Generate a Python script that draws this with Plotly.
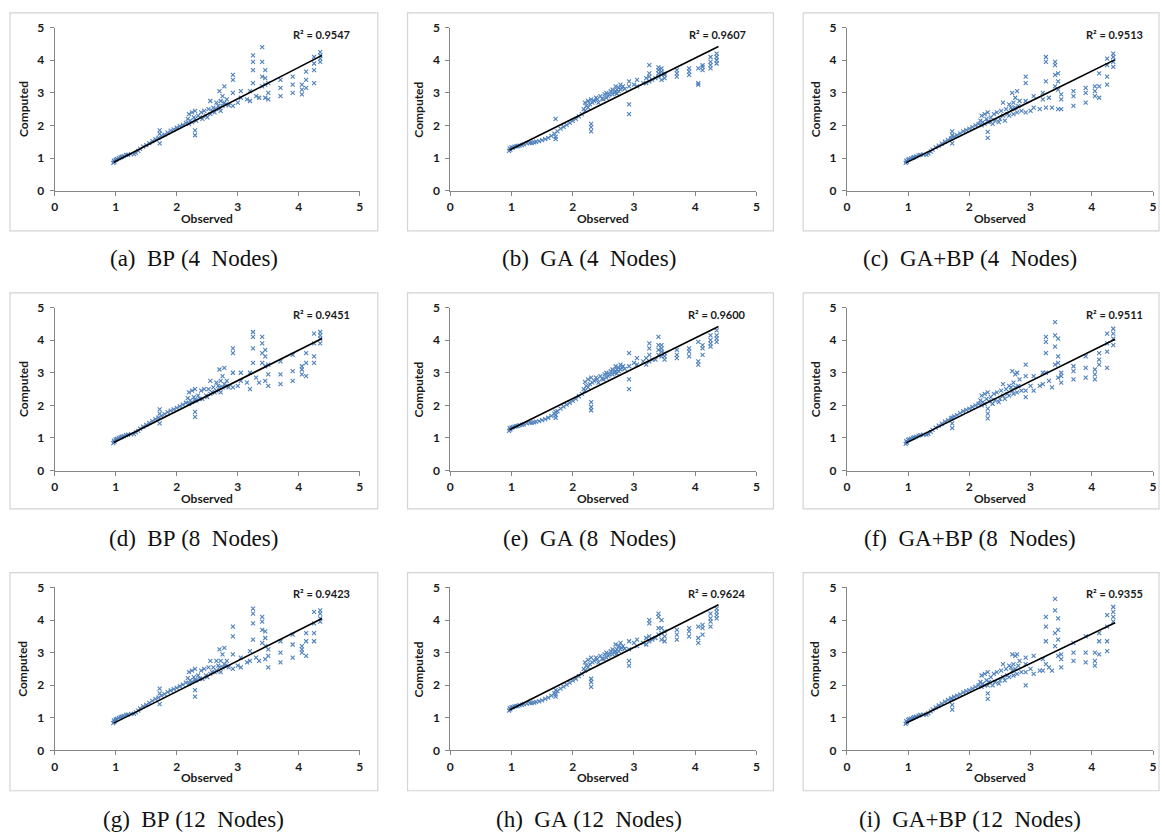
import plotly.graph_objects as go

# ---------------- data ----------------
observed = [
    0.96, 0.97, 0.98, 1.00, 1.02, 1.05, 1.08, 1.10, 1.13, 1.17, 1.20, 1.25, 1.30, 1.33, 1.37, 1.40,
    1.45, 1.50, 1.55, 1.60, 1.65, 1.70, 1.72, 1.72, 1.72, 1.75, 1.80, 1.85, 1.90, 1.95, 2.00, 2.05, 2.10,
    2.15, 2.18, 2.20, 2.20, 2.22, 2.25, 2.25, 2.28, 2.30, 2.30, 2.30, 2.30, 2.32, 2.35, 2.38, 2.40,
    2.42, 2.45, 2.48, 2.50, 2.52, 2.55, 2.55, 2.58, 2.60, 2.62, 2.65, 2.65, 2.68, 2.70, 2.70, 2.72,
    2.72, 2.75, 2.75, 2.78, 2.78, 2.80, 2.82, 2.85,
    2.92, 2.92, 2.92, 2.92, 3.00, 3.05, 3.05, 3.15, 3.20, 3.20, 3.25, 3.25, 3.25, 3.25, 3.30, 3.35,
    3.40, 3.40, 3.40, 3.40, 3.45, 3.45, 3.45, 3.45, 3.50, 3.50, 3.50, 3.70, 3.70, 3.70, 3.90, 3.90,
    3.90, 4.05, 4.05, 4.05, 4.12, 4.12, 4.12, 4.25, 4.25, 4.25, 4.25, 4.35, 4.35, 4.35, 4.35,
]

computed_a = [
    0.85, 0.92, 0.88, 0.95, 0.97, 1.00, 1.02, 1.04, 1.06, 1.10, 1.10, 1.12, 1.12, 1.16, 1.22, 1.28,
    1.35, 1.40, 1.46, 1.52, 1.58, 1.62, 1.45, 1.75, 1.85, 1.68, 1.72, 1.78, 1.84, 1.88, 1.93, 1.98, 2.02,
    2.08, 2.20, 2.05, 2.35, 2.15, 2.10, 2.40, 2.25, 1.70, 1.85, 2.20, 2.45, 2.15, 2.30, 2.25, 2.40,
    2.20, 2.45, 2.30, 2.25, 2.50, 2.35, 2.75, 2.45, 2.55, 2.40, 2.70, 2.50, 2.60, 2.55, 3.05, 2.75,
    2.45, 2.90, 2.60, 3.20, 2.70, 2.65, 2.80, 2.62,
    2.60, 3.00, 3.40, 3.55, 2.70, 2.85, 3.05, 2.80, 2.75, 3.05, 3.30, 3.70, 3.95, 4.15, 2.90, 2.85,
    3.20, 3.50, 3.95, 4.40, 3.25, 3.45, 3.70, 2.85, 2.80, 3.00, 3.30, 2.90, 3.15, 3.40, 3.00, 3.25,
    3.50, 2.95, 3.10, 3.25, 3.15, 3.40, 3.65, 3.30, 3.70, 3.90, 4.10, 3.95, 4.05, 4.15, 4.25,
]
computed_b = [
    1.22, 1.30, 1.26, 1.33, 1.32, 1.35, 1.36, 1.37, 1.38, 1.40, 1.42, 1.45, 1.47, 1.46, 1.48, 1.50,
    1.52, 1.55, 1.58, 1.62, 1.68, 1.75, 1.58, 1.65, 2.20, 1.82, 1.90, 1.96, 2.02, 2.08, 2.14, 2.20, 2.28,
    2.35, 2.50, 2.45, 2.70, 2.60, 2.55, 2.75, 2.65, 1.82, 1.95, 2.05, 2.80, 2.70, 2.75, 2.85, 2.80,
    2.70, 2.90, 2.82, 2.80, 2.95, 2.85, 3.00, 2.90, 2.95, 3.05, 2.95, 3.10, 3.00, 3.05, 3.20, 3.10,
    2.98, 3.15, 3.05, 3.25, 3.10, 3.15, 3.20, 3.12,
    2.35, 2.65, 3.20, 3.35, 3.25, 3.20, 3.40, 3.30, 3.30, 3.45, 3.35, 3.50, 3.60, 3.85, 3.40, 3.45,
    3.50, 3.60, 3.70, 3.78, 3.40, 3.55, 3.65, 3.75, 3.45, 3.55, 3.60, 3.50, 3.60, 3.70, 3.55, 3.65,
    3.75, 3.25, 3.30, 3.75, 3.70, 3.80, 3.85, 3.75, 3.85, 3.95, 4.10, 3.90, 4.00, 4.10, 4.20,
]
computed_c = [
    0.85, 0.92, 0.88, 0.95, 0.97, 0.99, 1.01, 1.03, 1.05, 1.08, 1.10, 1.11, 1.10, 1.14, 1.20, 1.26,
    1.33, 1.38, 1.44, 1.50, 1.56, 1.60, 1.45, 1.70, 1.82, 1.66, 1.70, 1.76, 1.82, 1.86, 1.90, 1.95, 2.00,
    2.05, 2.15, 2.00, 2.30, 2.10, 2.05, 2.35, 2.20, 1.62, 1.80, 2.10, 2.40, 2.12, 2.25, 2.05, 2.35,
    2.15, 2.40, 2.10, 2.20, 2.45, 2.30, 2.70, 2.15, 2.50, 2.35, 2.65, 2.30, 2.55, 2.50, 3.00, 2.70,
    2.35, 2.85, 2.55, 3.05, 2.40, 2.60, 2.75, 2.45,
    2.40, 2.75, 3.30, 3.50, 2.45, 2.55, 2.90, 2.50, 2.80, 3.00, 2.55, 3.35, 3.95, 4.10, 2.85, 2.55,
    3.20, 3.55, 3.85, 3.95, 2.50, 3.10, 3.35, 3.60, 2.50, 2.80, 2.95, 2.60, 2.90, 3.05, 2.70, 3.00,
    3.15, 2.90, 3.05, 3.20, 2.85, 3.20, 3.60, 3.25, 3.50, 3.85, 4.05, 3.80, 3.95, 4.10, 4.20,
]
computed_d = [
    0.84, 0.92, 0.88, 0.96, 0.97, 1.00, 1.02, 1.04, 1.06, 1.09, 1.10, 1.12, 1.12, 1.17, 1.22, 1.29,
    1.35, 1.40, 1.46, 1.52, 1.58, 1.62, 1.45, 1.75, 1.88, 1.68, 1.73, 1.79, 1.84, 1.88, 1.92, 1.97, 2.02,
    2.08, 2.22, 2.05, 2.40, 2.15, 2.10, 2.45, 2.25, 1.65, 1.80, 2.15, 2.50, 2.15, 2.30, 2.20, 2.45,
    2.20, 2.50, 2.30, 2.25, 2.50, 2.35, 2.75, 2.40, 2.55, 2.40, 2.70, 2.45, 2.60, 2.55, 3.10, 2.75,
    2.40, 2.90, 2.55, 3.15, 2.65, 2.60, 2.75, 2.55,
    2.55, 3.00, 3.60, 3.75, 2.60, 2.75, 3.00, 2.70, 2.50, 3.00, 3.30, 3.75, 4.10, 4.25, 2.85, 2.70,
    3.30, 3.60, 3.90, 4.10, 2.75, 3.20, 3.50, 3.70, 2.60, 2.95, 3.25, 2.65, 2.95, 3.35, 2.75, 3.05,
    3.55, 2.95, 3.10, 3.20, 2.90, 3.30, 3.60, 3.30, 3.50, 3.90, 4.20, 3.90, 4.05, 4.15, 4.25,
]
computed_e = [
    1.22, 1.30, 1.26, 1.32, 1.33, 1.35, 1.36, 1.37, 1.39, 1.40, 1.42, 1.45, 1.47, 1.46, 1.48, 1.50,
    1.52, 1.55, 1.58, 1.62, 1.68, 1.75, 1.62, 1.70, 1.80, 1.82, 1.90, 1.96, 2.02, 2.08, 2.14, 2.20, 2.28,
    2.35, 2.50, 2.45, 2.72, 2.60, 2.55, 2.80, 2.65, 1.85, 1.95, 2.10, 2.85, 2.70, 2.75, 2.85, 2.80,
    2.70, 2.90, 2.82, 2.80, 2.95, 2.85, 3.00, 2.90, 2.95, 3.05, 2.95, 3.10, 3.00, 3.05, 3.20, 3.10,
    2.98, 3.15, 3.05, 3.25, 3.10, 3.15, 3.20, 3.12,
    2.50, 2.80, 3.20, 3.60, 3.30, 3.25, 3.45, 3.35, 3.25, 3.45, 3.35, 3.55, 3.75, 3.90, 3.40, 3.40,
    3.55, 3.70, 3.85, 4.10, 3.50, 3.65, 3.75, 3.85, 3.40, 3.50, 3.60, 3.45, 3.55, 3.70, 3.50, 3.65,
    3.75, 3.25, 3.35, 3.95, 3.55, 3.75, 3.85, 3.80, 3.90, 4.00, 4.15, 3.95, 4.05, 4.15, 4.30,
]
computed_f = [
    0.82, 0.90, 0.86, 0.94, 0.96, 0.98, 1.00, 1.02, 1.04, 1.07, 1.09, 1.10, 1.10, 1.13, 1.19, 1.25,
    1.32, 1.38, 1.44, 1.50, 1.55, 1.60, 1.30, 1.45, 1.62, 1.66, 1.70, 1.76, 1.82, 1.86, 1.90, 1.95, 2.00,
    2.05, 2.15, 2.00, 2.30, 2.10, 2.05, 2.35, 2.20, 1.60, 1.75, 1.90, 2.40, 2.12, 2.25, 2.05, 2.35,
    2.15, 2.40, 2.10, 2.20, 2.45, 2.30, 2.65, 2.20, 2.50, 2.35, 2.60, 2.30, 2.55, 2.45, 3.05, 2.70,
    2.35, 2.95, 2.55, 3.00, 2.40, 2.60, 2.80, 2.45,
    2.25, 2.45, 2.90, 3.25, 2.60, 2.45, 2.90, 2.60, 2.65, 3.00, 3.00, 3.60, 3.95, 4.10, 2.75, 2.55,
    3.25, 3.80, 4.15, 4.55, 2.85, 3.30, 3.50, 4.05, 2.70, 2.90, 3.00, 2.80, 3.05, 3.20, 2.85, 3.15,
    3.50, 2.80, 2.95, 3.10, 3.25, 3.40, 3.60, 3.15, 3.65, 3.90, 4.20, 3.85, 4.05, 4.20, 4.35,
]
computed_g = [
    0.84, 0.92, 0.88, 0.95, 0.97, 1.00, 1.02, 1.04, 1.06, 1.09, 1.10, 1.12, 1.12, 1.17, 1.22, 1.29,
    1.35, 1.40, 1.46, 1.52, 1.58, 1.62, 1.42, 1.75, 1.90, 1.68, 1.73, 1.79, 1.84, 1.88, 1.92, 1.97, 2.02,
    2.08, 2.22, 2.05, 2.40, 2.15, 2.10, 2.45, 2.25, 1.65, 1.85, 2.15, 2.50, 2.15, 2.30, 2.20, 2.45,
    2.20, 2.50, 2.30, 2.25, 2.55, 2.35, 2.75, 2.40, 2.55, 2.40, 2.75, 2.45, 2.60, 2.55, 3.10, 2.75,
    2.40, 2.95, 2.55, 3.15, 2.65, 2.60, 2.75, 2.55,
    2.50, 2.95, 3.50, 3.80, 2.60, 2.55, 2.85, 2.70, 2.75, 3.05, 3.40, 3.90, 4.20, 4.35, 2.85, 2.75,
    3.30, 3.70, 3.95, 4.10, 2.80, 3.20, 3.45, 3.65, 2.55, 2.90, 3.10, 2.70, 3.00, 3.35, 2.85, 3.25,
    3.55, 3.00, 3.10, 3.20, 2.90, 3.35, 3.60, 3.35, 3.60, 3.90, 4.25, 3.95, 4.05, 4.20, 4.30,
]
computed_h = [
    1.22, 1.30, 1.26, 1.32, 1.33, 1.35, 1.36, 1.37, 1.39, 1.40, 1.42, 1.44, 1.46, 1.45, 1.47, 1.49,
    1.51, 1.54, 1.58, 1.62, 1.68, 1.75, 1.65, 1.72, 1.85, 1.82, 1.90, 1.96, 2.02, 2.08, 2.14, 2.20, 2.28,
    2.35, 2.50, 2.45, 2.70, 2.60, 2.55, 2.78, 2.65, 1.95, 2.10, 2.20, 2.85, 2.70, 2.75, 2.85, 2.80,
    2.70, 2.90, 2.82, 2.80, 2.95, 2.85, 3.00, 2.90, 2.95, 3.05, 2.95, 3.10, 3.00, 3.05, 3.25, 3.10,
    2.98, 3.20, 3.05, 3.30, 3.10, 3.15, 3.20, 3.12,
    2.60, 2.75, 3.10, 3.35, 3.30, 3.20, 3.40, 3.30, 3.25, 3.45, 3.35, 3.50, 3.90, 4.00, 3.40, 3.45,
    3.55, 3.75, 4.10, 4.20, 3.40, 3.60, 3.75, 4.00, 3.35, 3.50, 3.65, 3.40, 3.55, 3.70, 3.50, 3.65,
    3.75, 3.30, 3.45, 3.80, 3.55, 3.75, 3.85, 3.80, 3.95, 4.05, 4.20, 4.05, 4.15, 4.25, 4.35,
]
computed_i = [
    0.82, 0.90, 0.86, 0.94, 0.96, 0.98, 1.00, 1.02, 1.04, 1.07, 1.09, 1.10, 1.10, 1.14, 1.20, 1.26,
    1.32, 1.38, 1.44, 1.50, 1.55, 1.60, 1.25, 1.40, 1.58, 1.64, 1.68, 1.72, 1.78, 1.82, 1.85, 1.90, 1.95,
    2.00, 2.10, 1.95, 2.30, 2.05, 2.00, 2.35, 2.15, 1.58, 1.75, 2.00, 2.40, 2.10, 2.25, 2.00, 2.35,
    2.10, 2.40, 2.05, 2.15, 2.45, 2.25, 2.65, 2.15, 2.50, 2.30, 2.60, 2.25, 2.55, 2.45, 2.95, 2.65,
    2.30, 2.90, 2.50, 2.95, 2.35, 2.60, 2.75, 2.40,
    2.00, 2.40, 2.65, 2.85, 2.50, 2.35, 2.90, 2.45, 2.45, 2.80, 2.65, 3.35, 3.80, 4.10, 2.55, 2.45,
    3.20, 3.60, 4.30, 4.65, 2.90, 3.40, 3.70, 4.05, 2.55, 2.80, 2.95, 2.75, 3.00, 3.30, 2.70, 3.00,
    3.50, 2.60, 2.75, 3.00, 2.95, 3.35, 3.60, 3.05, 3.35, 3.80, 4.15, 3.95, 4.10, 4.25, 4.40,
]

computed_sets = [computed_a, computed_b, computed_c, computed_d, computed_e,
                 computed_f, computed_g, computed_h, computed_i]
r2_labels = ["0.9547", "0.9607", "0.9513", "0.9451", "0.9600", "0.9511", "0.9423", "0.9624", "0.9355"]
trend_x = [0.97, 4.38]
trend_start = [0.87, 1.25, 0.86, 0.86, 1.25, 0.85, 0.84, 1.24, 0.84]
trend_end = [4.15, 4.42, 4.02, 4.05, 4.42, 4.03, 4.05, 4.47, 3.92]
captions = ["(a)  BP (4  Nodes)", "(b)  GA (4  Nodes)", "(c)  GA+BP (4  Nodes)",
            "(d)  BP (8  Nodes)", "(e)  GA (8  Nodes)", "(f)  GA+BP (8  Nodes)",
            "(g)  BP (12  Nodes)", "(h)  GA (12  Nodes)", "(i)  GA+BP (12  Nodes)"]
tick_vals = [0, 1, 2, 3, 4, 5]

# ---------------- layout geometry (pixels) ----------------
W, H = 1165, 839
col_px = [(52, 359), (450, 758), (849, 1157)]
row_px = [(20, 186), (305, 471), (590, 756)]
frame_col = [(7, 377), (407, 775), (805, 1163)]
frame_row = [(5, 227), (290, 510), (575, 797)]
caption_cx = [192, 590, 973]
caption_cy = [255, 540, 826]

def fx(p):
    return p / W

def fy(p):
    return 1 - p / H

BLUE = "#4F81BD"
AX = "#868686"
TXT = "#1a1a1a"
FONT = "Lato"

fig = go.Figure()
layout = dict(width=W, height=H, autosize=False, margin=dict(l=0, r=0, t=0, b=0),
              paper_bgcolor="white", plot_bgcolor="white", showlegend=False)
shapes = []
annotations = []

for k in range(9):
    r, c = divmod(k, 3)
    sfx = "" if k == 0 else str(k + 1)
    xname, yname = "x" + sfx, "y" + sfx
    x0, x1 = col_px[c]
    y0, y1 = row_px[r]
    common = dict(range=[0, 5], tickvals=tick_vals, showgrid=False, zeroline=False,
                  showline=True, linecolor=AX, linewidth=1, ticks="outside", ticklen=4,
                  tickcolor=AX, tickwidth=1,
                  tickfont=dict(family=FONT, size=12, color=TXT, weight="bold"))
    layout["xaxis" + sfx] = dict(common, domain=[fx(x0), fx(x1)], anchor=yname, ticklabelstandoff=1)
    layout["yaxis" + sfx] = dict(common, domain=[fy(y1), fy(y0)], anchor=xname, ticklabelstandoff=3)

    comp = computed_sets[k]
    fig.add_trace(go.Scatter(x=observed, y=comp, mode="markers", xaxis=xname, yaxis=yname,
                             marker=dict(symbol="x-thin", size=4, color=BLUE,
                                         line=dict(width=1.1, color=BLUE)),
                             hoverinfo="skip"))
    fig.add_trace(go.Scatter(x=trend_x, y=[trend_start[k], trend_end[k]], mode="lines",
                             xaxis=xname, yaxis=yname, line=dict(color="black", width=1.6),
                             hoverinfo="skip"))

    fx0, fx1 = frame_col[c]
    fy0, fy1 = frame_row[r]
    shapes.append(dict(type="rect", xref="paper", yref="paper", x0=fx(fx0), x1=fx(fx1),
                       y0=fy(fy1), y1=fy(fy0), line=dict(color="#D4D4D4", width=1.2),
                       fillcolor="rgba(0,0,0,0)", layer="below"))

    annotations.append(dict(text="R² = " + r2_labels[k], xref=xname, yref=yname, x=4.87, y=4.8,
                            xanchor="right", yanchor="middle", showarrow=False,
                            font=dict(family=FONT, size=11, color=TXT, weight="bold")))
    annotations.append(dict(text="Computed", xref="paper", yref="paper", x=fx(x0 - 32),
                            y=fy((y0 + y1) / 2), xanchor="center", yanchor="middle",
                            textangle=-90, showarrow=False,
                            font=dict(family=FONT, size=12, color=TXT, weight="bold")))
    annotations.append(dict(text="Observed", xref="paper", yref="paper", x=fx((x0 + x1) / 2),
                            y=fy(y1 + 28), xanchor="center", yanchor="middle", showarrow=False,
                            font=dict(family=FONT, size=12, color=TXT, weight="bold")))
    annotations.append(dict(text=captions[k].replace(" ", "\u00a0"), xref="paper", yref="paper",
                            x=fx(caption_cx[c]), y=fy(caption_cy[r]), xanchor="center",
                            yanchor="middle", showarrow=False,
                            font=dict(family="Liberation Serif", size=23, color="#111111")))

layout["shapes"] = shapes
layout["annotations"] = annotations
fig.update_layout(**layout)
fig.write_html("out.html")
